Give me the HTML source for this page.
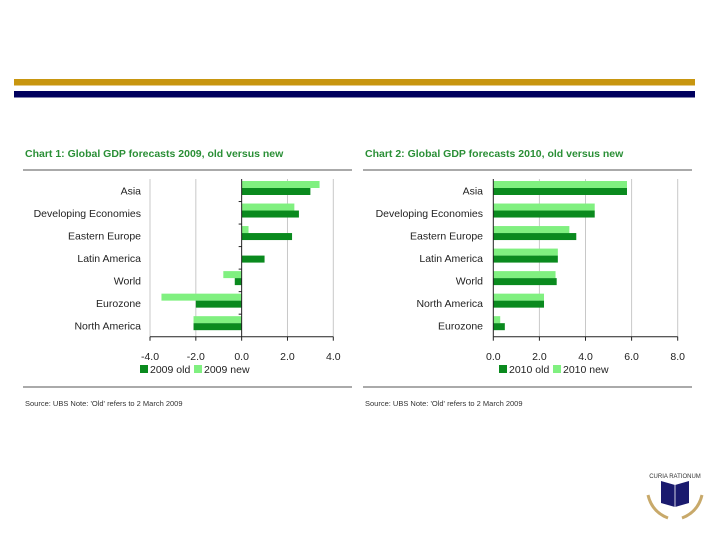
<!DOCTYPE html>
<html><head><meta charset="utf-8"><style>
html,body{margin:0;padding:0;background:#fff;}
svg{display:block;font-family:"Liberation Sans",Arial,sans-serif;}
</style></head><body>
<svg id="s" width="720" height="540" viewBox="0 0 720 540">
<rect x="14" y="79" width="681" height="6.5" fill="#c8960f"/>
<rect x="14" y="91" width="681" height="6.5" fill="#00005e"/>
<g>
<path d="M661 481 L675 485 L689 481 L689 503 L675 507 L661 503 Z" fill="#1a1a6e"/>
<line x1="675" y1="485" x2="675" y2="507" stroke="#fff" stroke-width="0.8"/>
<text x="675" y="478" font-size="6" text-anchor="middle" fill="#333">CURIA RATIONUM</text>
<path d="M648 495 Q652 512 668 518" stroke="#c8a96a" stroke-width="3" fill="none"/>
<path d="M702 495 Q698 512 682 518" stroke="#c8a96a" stroke-width="3" fill="none"/>
</g>
</svg>
<script>
const cats1=["Asia","Developing Economies","Eastern Europe","Latin America","World","Eurozone","North America"];
const old1=[3.0,2.5,2.2,1.0,-0.3,-2.0,-2.1];
const new1=[3.4,2.3,0.3,0.0,-0.8,-3.5,-2.1];
const ticks1=["-4.0","-2.0","0.0","2.0","4.0"];
const cats2=["Asia","Developing Economies","Eastern Europe","Latin America","World","North America","Eurozone"];
const old2=[5.8,4.4,3.6,2.8,2.75,2.2,0.5];
const new2=[5.8,4.4,3.3,2.8,2.7,2.2,0.3];
const ticks2=["0.0","2.0","4.0","6.0","8.0"];
const NS="http://www.w3.org/2000/svg";
const svg=document.getElementById('s');
function mk(tag,at,parent,txt){const e=document.createElementNS(NS,tag);for(const k in at)e.setAttribute(k,at[k]);if(txt!==undefined)e.textContent=txt;(parent||svg).appendChild(e);return e;}
function chart(cfg){
 const g=mk('g',{});
 
 
 const x=v=>cfg.x0+(v-cfg.min)*(cfg.x1-cfg.x0)/(cfg.max-cfg.min);
 const top=179,bot=336.7,n=cfg.cats.length,band=(bot-top)/n;
 const t=mk('text',{x:cfg.L+2,y:157,'font-size':10.5,'font-weight':'bold',fill:'#2a8f36'},g,cfg.title);
 
 
 mk('line',{x1:cfg.L,x2:cfg.R,y1:170,y2:170,stroke:'#555','stroke-width':1},g);
 mk('line',{x1:cfg.L,x2:cfg.R,y1:387,y2:387,stroke:'#555','stroke-width':1},g);
 cfg.ticks.forEach(tk=>{const v=parseFloat(tk),xx=x(v);
  if(v!==cfg.axisAt) mk('line',{x1:xx,x2:xx,y1:top,y2:bot,stroke:'#c8c8c8','stroke-width':1},g);
  mk('line',{x1:xx,x2:xx,y1:bot,y2:bot+4,stroke:'#222'},g);
  const tl=mk('text',{x:xx,y:360,'font-size':10.5,'text-anchor':'middle',fill:'#222'},g,tk);
  
  
 });
 cfg.cats.forEach((c,i)=>{const y0=top+i*band;
  const cl=mk('text',{x:cfg.labX,y:y0+band/2+4,'font-size':10.5,'text-anchor':'end',fill:'#222'},g,c);
  
  
  const rn=mk('rect',{x:Math.min(x(0),x(cfg.nw[i])),y:y0+2,width:Math.abs(x(cfg.nw[i])-x(0)),height:7,fill:'#80f080'},g);
  
  
  const ro=mk('rect',{x:Math.min(x(0),x(cfg.old[i])),y:y0+9,width:Math.abs(x(cfg.old[i])-x(0)),height:7,fill:'#0a8a1e'},g);
  
  
  if(i>0&&cfg.yTicks) mk('line',{x1:x(cfg.axisAt)-3,x2:x(cfg.axisAt),y1:y0,y2:y0,stroke:'#222'},g);
 });
 const ax=x(cfg.axisAt);
 mk('line',{x1:ax,x2:ax,y1:top,y2:bot,stroke:'#222','stroke-width':1},g);
 mk('line',{x1:cfg.x0,x2:cfg.x1,y1:bot,y2:bot,stroke:'#222','stroke-width':1},g);
 const lg=mk('g',{},g);
 
 
 mk('rect',{x:cfg.legX,y:365,width:8,height:8,fill:'#0a8a1e'},lg);
 mk('text',{x:cfg.legX+10,y:373,'font-size':10.5,fill:'#222'},lg,cfg.l1);
 mk('rect',{x:cfg.legX+54,y:365,width:8,height:8,fill:'#80f080'},lg);
 mk('text',{x:cfg.legX+64,y:373,'font-size':10.5,fill:'#222'},lg,cfg.l2);
 const src=mk('text',{x:cfg.L+2,y:406,'font-size':7.5,fill:'#333'},g,cfg.src);
 
 
}
chart({name:'chart-1-gdp-2009',title:'Chart 1: Global GDP forecasts 2009, old versus new',L:23,R:352,x0:150,x1:333.3,min:-4,max:4,axisAt:0,cats:cats1,old:old1,nw:new1,ticks:ticks1,labX:141,legX:140,l1:'2009 old',l2:'2009 new',yTicks:true,src:"Source: UBS  Note: 'Old' refers to 2 March 2009"});
chart({name:'chart-2-gdp-2010',title:'Chart 2: Global GDP forecasts 2010, old versus new',L:363,R:692,x0:493.3,x1:677.7,min:0,max:8,axisAt:0,cats:cats2,old:old2,nw:new2,ticks:ticks2,labX:483,legX:499,l1:'2010 old',l2:'2010 new',yTicks:false,src:"Source: UBS   Note: 'Old' refers to 2 March 2009"});
</script>
</body></html>
